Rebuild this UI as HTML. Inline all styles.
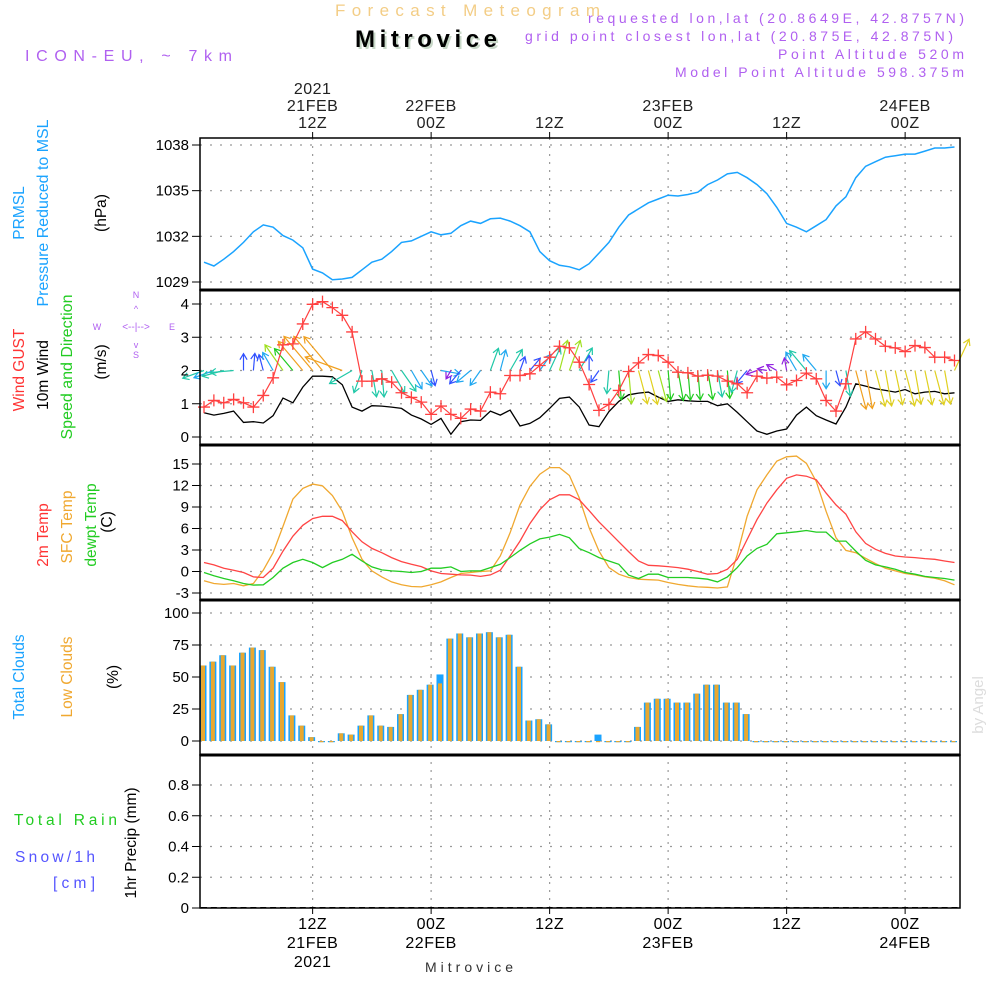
<!DOCTYPE html>
<html><head><meta charset="utf-8"><style>
html,body{margin:0;padding:0;background:#fff;}
svg{display:block;}
text{font-family:"Liberation Sans",sans-serif;}
</style></head><body>
<svg id="chart" width="1000" height="1000" viewBox="0 0 1000 1000" xmlns="http://www.w3.org/2000/svg">
<g id="grid"></g>
<g id="marks"></g>
<g id="axes"></g>
<g id="labels">
<text x="335" y="16" font-size="17" fill="#f3cd86" textLength="265" lengthAdjust="spacing">Forecast Meteogram</text>
<text x="357" y="49" font-size="24" font-weight="bold" font-family="Liberation Serif,serif" fill="#c8d8c8" textLength="142" lengthAdjust="spacing">Mitrovice</text>
<text x="355" y="47" font-size="24" font-weight="bold" font-family="Liberation Serif,serif" fill="#000" textLength="142" lengthAdjust="spacing">Mitrovice</text>
<text x="25" y="61" font-size="16" fill="#b060f0" textLength="207" lengthAdjust="spacing">ICON-EU, ~ 7km</text>
<g font-size="14" fill="#b060f0">
<text x="588" y="23" textLength="376" lengthAdjust="spacing">requested lon,lat (20.8649E, 42.8757N)</text>
<text x="525" y="41" textLength="428" lengthAdjust="spacing">grid point closest lon,lat (20.875E, 42.875N)</text>
<text x="778" y="59" textLength="186" lengthAdjust="spacing">Point Altitude 520m</text>
<text x="675" y="77" textLength="289" lengthAdjust="spacing">Model Point Altitude 598.375m</text>
</g>
<g font-size="15.5">
<text transform="translate(24,213) rotate(-90)" text-anchor="middle" fill="#1aa3ff">PRMSL</text>
<text transform="translate(48,213) rotate(-90)" text-anchor="middle" fill="#1aa3ff" textLength="187" lengthAdjust="spacingAndGlyphs">Pressure Reduced to MSL</text>
<text transform="translate(106,213) rotate(-90)" text-anchor="middle" fill="#000">(hPa)</text>
</g>
<g font-size="15.5">
<text transform="translate(24,370) rotate(-90)" text-anchor="middle" fill="#ff3333">Wind GUST</text>
<text transform="translate(48,375) rotate(-90)" text-anchor="middle" fill="#000">10m Wind</text>
<text transform="translate(72,367) rotate(-90)" text-anchor="middle" fill="#22cc22" textLength="145" lengthAdjust="spacingAndGlyphs">Speed and Direction</text>
<text transform="translate(106,362) rotate(-90)" text-anchor="middle" fill="#000">(m/s)</text>
</g>
<g fill="#b060f0" font-size="9" text-anchor="middle">
<text x="97" y="330">W</text><text x="172" y="330">E</text><text x="136" y="298">N</text><text x="136" y="358">S</text>
<text x="136" y="330" font-size="10">&lt;--|--&gt;</text>
<text x="136" y="312" font-size="9">^</text><text x="136" y="348" font-size="9">v</text>
</g>
<g font-size="15.5">
<text transform="translate(48,535) rotate(-90)" text-anchor="middle" fill="#ff3333">2m Temp</text>
<text transform="translate(72,527) rotate(-90)" text-anchor="middle" fill="#f0a830">SFC Temp</text>
<text transform="translate(96,525) rotate(-90)" text-anchor="middle" fill="#22cc22">dewpt Temp</text>
<text transform="translate(112,522) rotate(-90)" text-anchor="middle" fill="#000">(C)</text>
</g>
<g font-size="15.5">
<text transform="translate(24,677) rotate(-90)" text-anchor="middle" fill="#1aa3ff">Total Clouds</text>
<text transform="translate(72,677) rotate(-90)" text-anchor="middle" fill="#f0a830">Low Clouds</text>
<text transform="translate(118,677) rotate(-90)" text-anchor="middle" fill="#000">(%)</text>
</g>
<g font-size="15.5">
<text transform="translate(136,843) rotate(-90)" text-anchor="middle" fill="#000">1hr Precip (mm)</text>
<text x="14" y="825" fill="#22cc22" textLength="103" lengthAdjust="spacing">Total   Rain</text>
<text x="15" y="862" fill="#5555ff" textLength="80" lengthAdjust="spacing">Snow/1h</text>
<text x="53" y="888" fill="#5555ff" textLength="42" lengthAdjust="spacing">[cm]</text>
</g>
<text transform="translate(983,705) rotate(-90)" text-anchor="middle" font-size="15" font-family="Liberation Serif,serif" fill="#dddddd">by Angel</text>
<text x="425" y="972" font-size="14" font-family="Liberation Serif,serif" fill="#333" textLength="88" lengthAdjust="spacing">Mitrovice</text>
</g>
</svg>
<script>
// ---- data (hourly, starting 01Z 21 Feb 2021) ----
const pressure = [1030.3,1030.05,1030.5,1031.0,1031.6,1032.3,1032.75,1032.6,1032.05,1031.75,1031.25,1029.85,1029.6,1029.15,1029.2,1029.3,1029.8,1030.3,1030.5,1031.0,1031.6,1031.7,1032.0,1032.3,1032.1,1032.2,1032.7,1033.0,1032.85,1033.15,1033.2,1033.0,1032.7,1032.3,1031.0,1030.4,1030.1,1030.0,1029.8,1030.2,1030.9,1031.6,1032.6,1033.4,1033.8,1034.2,1034.45,1034.7,1034.65,1034.75,1034.9,1035.4,1035.7,1036.1,1036.2,1035.85,1035.4,1034.8,1033.9,1032.85,1032.6,1032.3,1032.7,1033.1,1034.0,1034.6,1035.85,1036.6,1036.9,1037.2,1037.3,1037.4,1037.4,1037.6,1037.8,1037.8,1037.87];
const windSpeed = [0.73,0.66,0.71,0.78,0.44,0.46,0.42,0.64,1.17,1.03,1.5,1.83,1.83,1.81,1.57,0.9,0.78,0.94,0.93,0.9,0.86,0.66,0.54,0.38,0.56,0.08,0.46,0.51,0.5,0.78,0.66,0.81,0.33,0.41,0.58,0.86,1.16,1.2,0.9,0.36,0.31,0.76,1.07,1.27,1.32,1.35,1.2,1.07,1.12,1.09,1.07,1.07,0.94,1.0,0.74,0.46,0.18,0.08,0.18,0.24,0.66,0.9,0.64,0.51,0.39,0.9,1.6,1.53,1.45,1.4,1.35,1.43,1.3,1.35,1.37,1.3,1.33];
const windGust = [0.9,1.1,1.03,1.13,1.03,0.9,1.25,1.78,2.77,2.8,3.4,3.99,4.07,3.89,3.66,3.16,1.68,1.68,1.75,1.65,1.33,1.19,1.05,0.68,0.93,0.68,0.56,0.84,0.78,1.35,1.3,1.85,1.85,1.9,2.15,2.4,2.73,2.68,2.25,1.58,0.8,0.98,1.4,1.97,2.23,2.48,2.45,2.25,1.95,1.93,1.83,1.86,1.83,1.68,1.6,1.33,1.83,1.77,1.8,1.57,1.7,1.92,1.75,1.1,0.78,1.6,2.95,3.16,2.95,2.73,2.68,2.57,2.75,2.69,2.4,2.4,2.3];
const windDir = [250,250,255,265,0,5,345,330,325,320,320,320,320,320,290,240,200,170,175,150,145,150,145,165,100,210,220,230,215,20,15,30,20,40,35,25,15,20,30,0,215,185,175,175,165,165,165,175,170,175,175,170,170,175,195,220,250,280,300,350,330,320,320,180,165,170,165,170,165,170,168,165,170,168,165,170,25];
const temp2m = [1.25,0.92,0.46,0.18,-0.14,-0.75,-0.84,0.46,2.85,4.93,6.45,7.38,7.7,7.7,7.1,5.54,4.15,3.23,2.63,1.94,1.38,1.0,0.69,0.08,-0.28,-0.37,-0.47,-0.5,-0.69,-0.47,0.18,2.16,4.24,6.69,8.63,10.0,10.7,10.7,10.0,8.5,6.92,5.54,4.15,2.77,1.47,0.87,0.8,0.69,0.55,0.32,0.0,-0.37,-0.28,0.32,1.7,4.47,7.24,9.55,11.4,13.0,13.48,13.3,12.8,10.94,9.3,8.0,5.54,3.92,3.1,2.53,2.16,2.02,1.94,1.8,1.7,1.47,1.25];
const tempSfc = [-1.3,-1.67,-1.8,-1.67,-2.0,-1.67,0.18,2.63,6.3,10.1,11.6,12.2,11.95,10.6,8.4,4.7,1.7,0.08,-0.75,-1.45,-1.85,-2.1,-2.15,-1.85,-1.45,-0.84,-0.28,-0.14,0.0,0.08,2.16,5.4,9.3,11.86,13.57,14.5,14.5,13.4,10.25,6.1,2.85,0.55,-0.37,-0.84,-1.07,-1.15,-1.2,-1.53,-1.8,-2.0,-2.15,-2.2,-2.3,-2.15,2.4,7.7,11.4,13.48,15.4,16.0,16.1,15.1,12.55,8.4,4.7,2.95,2.63,1.84,1.1,0.46,0.08,-0.28,-0.47,-0.75,-0.93,-1.3,-1.85];
const dewpt = [-0.14,-0.6,-0.97,-1.3,-1.67,-1.9,-1.85,-0.84,0.46,1.25,1.7,1.25,0.55,1.25,1.7,2.4,1.47,0.64,0.23,0.08,0.0,-0.14,0.0,0.46,0.46,0.64,0.0,0.08,0.08,0.55,1.0,1.94,2.95,3.85,4.55,4.8,5.17,4.7,3.2,2.63,1.94,1.47,1.0,-0.5,-0.97,-0.37,-0.37,-0.84,-0.84,-0.84,-0.93,-1.07,-1.45,-0.75,0.55,2.16,3.23,3.8,5.26,5.4,5.54,5.72,5.5,5.5,4.24,4.24,2.85,1.56,0.92,0.64,0.32,-0.14,-0.37,-0.69,-0.84,-0.97,-1.2];
const totalClouds = [59,62,67,59,69,73,71,58,46,20,12,3,0,0,6,5,12,20,12,11,21,36,40,44,52,80,84,81,84,85,81,83,58,16,17,13,0,0,0,0,5,0,0,0,11,30,33,33,30,30,37,44,44,30,30,21,0,0,0,0,0,0,0,0,0,0,0,0,0,0,0,0,0,0,0,0,0];
const lowClouds = [59,62,67,59,69,73,71,58,46,20,12,3,0,0,6,5,12,20,12,11,21,36,40,44,45,80,84,81,84,85,81,83,58,16,17,13,0,0,0,0,0,0,0,0,11,30,33,33,30,30,37,44,44,30,30,21,0,0,0,0,0,0,0,0,0,0,0,0,0,0,0,0,0,0,0,0,0];
const precip = [0,0,0,0,0,0,0,0,0,0,0,0,0,0,0,0,0,0,0,0,0,0,0,0,0,0,0,0,0,0,0,0,0,0,0,0,0,0,0,0,0,0,0,0,0,0,0,0,0,0,0,0,0,0,0,0,0,0,0,0,0,0,0,0,0,0,0,0,0,0,0,0,0,0,0,0,0];
const pressureTicks = [1029,1032,1035,1038];
const windTicks = [0,1,2,3,4];
const tempTicks = [-3,0,3,6,9,12,15];
const cloudTicks = [0,25,50,75,100];
const precipTicks = [0,0.2,0.4,0.6,0.8];
const timeTickHours = [11,23,35,47,59,71]; // hour index of 12Z/00Z ticks
const topTickLabels = [["2021","21FEB","12Z"],["22FEB","00Z"],["12Z"],["23FEB","00Z"],["12Z"],["24FEB","00Z"]];
const bottomTickLabels = [["12Z","21FEB","2021"],["00Z","22FEB"],["12Z"],["00Z","23FEB"],["12Z"],["00Z","24FEB"]];

// ---- scales ----
const X0=200, X1=960;
const xS = i => 204 + i*9.875;
const lin = (d0,d1,r0,r1) => v => r0 + (v-d0)*(r1-r0)/(d1-d0);
const yP = lin(1029,1038,282,145);
const yW = lin(0,4,437,304);
const yT = lin(-3,15,593,464);
const yC = lin(0,100,741,613);
const yR = lin(0,0.8,908,785);
const panels = [[138,290],[290,445],[445,600],[600,755],[755,908]];

const NS="http://www.w3.org/2000/svg";
function mk(tag, attrs, parent){const e=document.createElementNS(NS,tag);for(const k in attrs)e.setAttribute(k,attrs[k]);parent.appendChild(e);return e;}
const grid=document.getElementById('grid'), marks=document.getElementById('marks'), axes=document.getElementById('axes');

// grid
timeTickHours.forEach(h=>{const x=xS(h);
  const g=mk('line',{x1:x,x2:x,y1:138,y2:908,stroke:'#999','stroke-width':1.2,'stroke-dasharray':'2,6'},grid);
  
  
});
function hgrid(ticks,sc,name){ticks.forEach(t=>{const y=sc(t);
  const g=mk('line',{x1:X0,x2:X1,y1:y,y2:y,stroke:'#999','stroke-width':1.2,'stroke-dasharray':'2,8'},grid);
  
  
});}
hgrid(pressureTicks,yP,'pressure-gridline');hgrid(windTicks,yW,'wind-gridline');hgrid(tempTicks,yT,'temp-gridline');hgrid(cloudTicks,yC,'cloud-gridline');hgrid(precipTicks,yR,'precip-gridline');

function path(arr,sc){return arr.map((v,i)=>(i?'L':'M')+xS(i).toFixed(1)+','+sc(v).toFixed(1)).join('');}
let e=mk('path',{d:path(pressure,yP),fill:'none',stroke:'#1aa3ff','stroke-width':1.5},marks);



e=mk('path',{d:path(windSpeed,yW),fill:'none',stroke:'#000','stroke-width':1.3},marks);



function spdColor(s){if(s<0.3)return '#9020e0';if(s<0.5)return '#3050ff';if(s<0.7)return '#20a8f0';if(s<0.95)return '#20c8a8';if(s<1.15)return '#20cc20';if(s<1.3)return '#a0e020';if(s<1.5)return '#e0d020';return '#f0a020';}
windSpeed.forEach((s,i)=>{
  const x0=xS(i), y0=yW(2);
  const L=8+20*s, a=windDir[i]*Math.PI/180;
  const dx=Math.sin(a)*L, dy=-Math.cos(a)*L, x1=x0+dx, y1=y0+dy;
  const ux=dx/L, uy=dy/L, h=6;
  const c=spdColor(s);
  const g=mk('path',{d:`M${x0},${y0}L${x1},${y1}M${x1-h*ux+h*0.6*uy},${y1-h*uy-h*0.6*ux}L${x1},${y1}L${x1-h*ux-h*0.6*uy},${y1-h*uy+h*0.6*ux}`,fill:'none',stroke:c,'stroke-width':1.2},marks);
  
  
});

e=mk('path',{d:path(windGust,yW),fill:'none',stroke:'#ff4040','stroke-width':1.2},marks);


windGust.forEach((v,i)=>{const x=xS(i),y=yW(v);
  const m=mk('path',{d:`M${x-6},${y}L${x+6},${y}M${x},${y-6}L${x},${y+6}`,stroke:'#ff4040','stroke-width':1.3},marks);
  
  
});

[[tempSfc,'#f0a830','sfc-temp-line'],[temp2m,'#ff4444','2m-temp-line'],[dewpt,'#22cc22','dewpoint-line']].forEach(([arr,c,n])=>{
  const l=mk('path',{d:path(arr,yT),fill:'none',stroke:c,'stroke-width':1.3},marks);
  
  
});

totalClouds.forEach((v,i)=>{const x=xS(i)-1;
  const b=mk('rect',{x:x-3.5,y:yC(v),width:7,height:Math.max(1.2,yC(0)-yC(v)),fill:'#1aa3ff'},marks);
  
  
  const lv=lowClouds[i];
  const o=mk('rect',{x:x-2,y:yC(lv),width:4,height:Math.max(1.2,yC(0)-yC(lv)),fill:'#e8a830'},marks);
  
  
});

precip.forEach((v,i)=>{const x=xS(i);
  const b=mk('rect',{x:x-3,y:yR(v)-1,width:6,height:Math.max(1.5,yR(0)-yR(v)),fill:'#000'},marks);
  
  
});

panels.forEach(([a,b])=>{
  const r=mk('rect',{x:X0,y:a,width:X1-X0,height:b-a,fill:'none',stroke:'#000','stroke-width':1.5},axes);
  
  
});
[290,445,600,755].forEach(y=>{const l=mk('line',{x1:X0,x2:X1,y1:y,y2:y,stroke:'#000','stroke-width':3},axes);
  
  });

function yAxis(ticks,sc,name,fmt){ticks.forEach(t=>{const y=sc(t);
  const tk=mk('line',{x1:X0-8,x2:X0,y1:y,y2:y,stroke:'#000','stroke-width':1},axes);
  
  
  const tx=mk('text',{x:X0-11,y:y+5,'text-anchor':'end','font-size':15,fill:'#000'},axes);
  tx.textContent=fmt(t);
  
  
});}
yAxis(pressureTicks,yP,'pressure-axis',String);
yAxis(windTicks,yW,'wind-axis',String);
yAxis(tempTicks,yT,'temp-axis',String);
yAxis(cloudTicks,yC,'cloud-axis',String);
yAxis(precipTicks,yR,'precip-axis',t=>t===0?'0':t.toFixed(1));

timeTickHours.forEach((h,k)=>{const x=xS(h);
  const t1=mk('line',{x1:x,x2:x,y1:132,y2:138,stroke:'#000'},axes);
  
  
  const t2=mk('line',{x1:x,x2:x,y1:908,y2:914,stroke:'#000'},axes);
  
  
  const top=topTickLabels[k];
  top.forEach((s,j)=>{const tx=mk('text',{x:x,y:128-(top.length-1-j)*17,'text-anchor':'middle','font-size':16,fill:'#222','letter-spacing':'0.5'},axes);
    tx.textContent=s;
    
    });
  bottomTickLabels[k].forEach((s,j)=>{const tx=mk('text',{x:x,y:929+j*19,'text-anchor':'middle','font-size':16,fill:'#000','letter-spacing':'0.5'},axes);
    tx.textContent=s;
    
    });
});
</script>
</body></html>
